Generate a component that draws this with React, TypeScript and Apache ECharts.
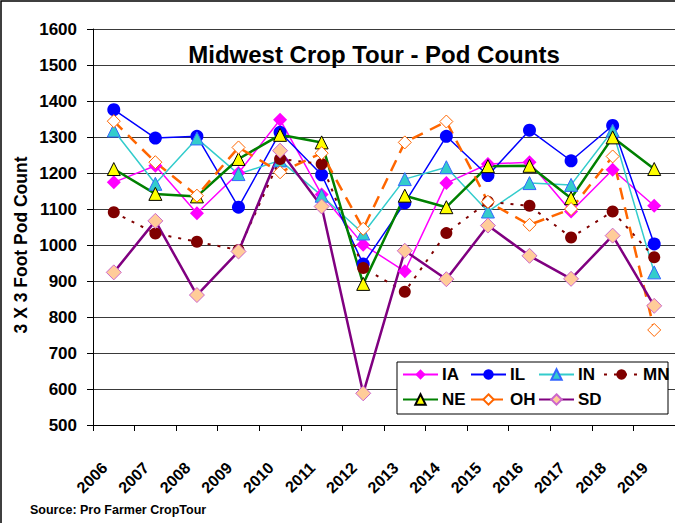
import React, { useEffect, useRef } from "react";
import * as echarts from "echarts";

const years = ["2006", "2007", "2008", "2009", "2010", "2011", "2012", "2013", "2014", "2015", "2016", "2017", "2018", "2019"];
const IA = [1174, 1220, 1088, 1200, 1348, 1140, 1001, 927, 1172, 1225, 1230, 1093, 1209, 1109];
const IL = [1376, 1297, 1302, 1105, 1313, 1195, 947, 1117, 1302, 1193, 1319, 1234, 1332, 1003];
const IN = [1318, 1170, 1296, 1197, 1235, 1137, 1032, 1183, 1216, 1093, 1172, 1167, 1318, 924];
const MN = [1091, 1032, 1009, 986, 1239, 1225, 936, 870, 1033, 1120, 1109, 1021, 1093, 966];
const NE = [1211, 1142, 1135, 1239, 1306, 1285, 892, 1137, 1105, 1219, 1220, 1130, 1299, 1211];
const OH = [1344, 1230, 1137, 1271, 1202, 1255, 1045, 1285, 1343, 1120, 1056, 1100, 1246, 764];
const SD = [924, 1067, 861, 982, 1262, 1107, 588, 984, 905, 1054, 970, 906, 1026, 831];

const FONT = "Liberation Sans, Arial, sans-serif";

export default function App() {
  const ref = useRef<HTMLDivElement>(null);
  useEffect(() => {
    if (!ref.current) return;
    const chart = echarts.init(ref.current, null, { renderer: "svg" });

    const mk = (name: string, data: number[], o: any) => ({
      name,
      type: "line",
      data,
      symbol: o.symbol,
      symbolSize: o.size,
      lineStyle: { color: o.line, width: o.width, type: o.type || "solid" },
      itemStyle: { color: o.fill, borderColor: o.border || o.fill, borderWidth: o.bw || 0 },
      emphasis: { disabled: true },
    });

    const series = [
      mk("IA", IA, { symbol: "diamond", size: 14, line: "#FF00FF", width: 1.5, fill: "#FF00FF" }),
      mk("IL", IL, { symbol: "circle", size: 13, line: "#0000FF", width: 1.5, fill: "#0000FF" }),
      mk("IN", IN, { symbol: "triangle", size: 13, line: "#33CCCC", width: 1.5, fill: "#33CCCC", border: "#3366FF", bw: 1 }),
      mk("MN", MN, { symbol: "circle", size: 12, line: "#800000", width: 2, type: [3, 7], fill: "#800000" }),
      mk("NE", NE, { symbol: "triangle", size: 13, line: "#008000", width: 2.5, fill: "#FFFF00", border: "#000000", bw: 1 }),
      mk("OH", OH, { symbol: "diamond", size: 13, line: "#FF6600", width: 2.5, type: [12, 8], fill: "#FFFFFF", border: "#FF6600", bw: 1 }),
      mk("SD", SD, { symbol: "diamond", size: 15, line: "#800080", width: 2.5, fill: "#FFCC99", border: "#CC66CC", bw: 1 }),
    ];

    const legendPos: [string, number, number][] = [
      ["IA", 402, 366], ["IL", 470, 366], ["IN", 538, 366], ["MN", 603, 366],
      ["NE", 402, 391], ["OH", 470, 391], ["SD", 538, 391],
    ];

    chart.setOption({
      animation: false,
      backgroundColor: "#FFFFFF",
      textStyle: { fontFamily: FONT },
      title: {
        text: "Midwest Crop Tour - Pod Counts",
        left: 369,
        top: 37,
        textAlign: "center",
        textStyle: { fontFamily: FONT, fontWeight: "bold", fontSize: 24, color: "#000" },
      },
      grid: { left: 93, right: 0, top: 29, bottom: 98, containLabel: false },
      xAxis: {
        type: "category",
        data: years,
        boundaryGap: true,
        axisLine: { show: true, lineStyle: { color: "#000", width: 1 } },
        axisTick: { show: true, length: 6, lineStyle: { color: "#000" } },
        axisLabel: {
          rotate: 45,
          margin: 31,
          align: "right",
          verticalAlign: "middle",
          padding: [0, 13, 0, 0],
          fontFamily: FONT,
          fontWeight: "bold",
          fontSize: 16,
          color: "#000",
        },
        splitLine: { show: false },
      },
      yAxis: {
        type: "value",
        min: 500,
        max: 1600,
        interval: 100,
        axisLine: { show: true, lineStyle: { color: "#000", width: 1 } },
        axisTick: { show: true, length: 6, lineStyle: { color: "#000" } },
        axisLabel: {
          margin: 16,
          formatter: (v: number) => String(v),
          fontFamily: FONT,
          fontWeight: "bold",
          fontSize: 17,
          color: "#000",
        },
        splitLine: { show: true, lineStyle: { color: "#3a3a3a", width: 1 } },
      },
      legend: legendPos.map(([n, l, t]) => ({
        data: [n],
        left: l,
        top: t,
        padding: 0,
        itemWidth: 35,
        itemHeight: 13,
        itemGap: 0,
        selectedMode: false,
        textStyle: { fontFamily: FONT, fontWeight: "bold", fontSize: 17, color: "#000", padding: [0, 0, 0, -1] },
        z: 5,
      })),
      graphic: [
        {
          type: "rect",
          z: 3,
          shape: { x: 397, y: 362, width: 271, height: 52 },
          style: { fill: "#FFFFFF", stroke: "#000", lineWidth: 1 },
        },
        {
          type: "rect",
          z: 0,
          silent: true,
          shape: { x: 1, y: 1, width: 690, height: 540 },
          style: { fill: "none", stroke: "#000", lineWidth: 1.5 },
        },
        {
          type: "text",
          x: 21,
          y: 245,
          rotation: Math.PI / 2,
          style: {
            text: "3 X 3 Foot Pod Count",
            fontFamily: FONT,
            fontWeight: "bold",
            fontSize: 17.5,
            fill: "#000",
            align: "center",
            verticalAlign: "middle",
          },
        },
        {
          type: "text",
          x: 30,
          y: 510,
          style: {
            text: "Source: Pro Farmer CropTour",
            fontFamily: FONT,
            fontWeight: "bold",
            fontSize: 12.5,
            fill: "#000",
            align: "left",
            verticalAlign: "middle",
          },
        },
      ],
      series,
    });
    return () => chart.dispose();
  }, []);
  return <div ref={ref} style={{ position: "fixed", left: 0, top: 0, width: 675, height: 523 }} />;
}
